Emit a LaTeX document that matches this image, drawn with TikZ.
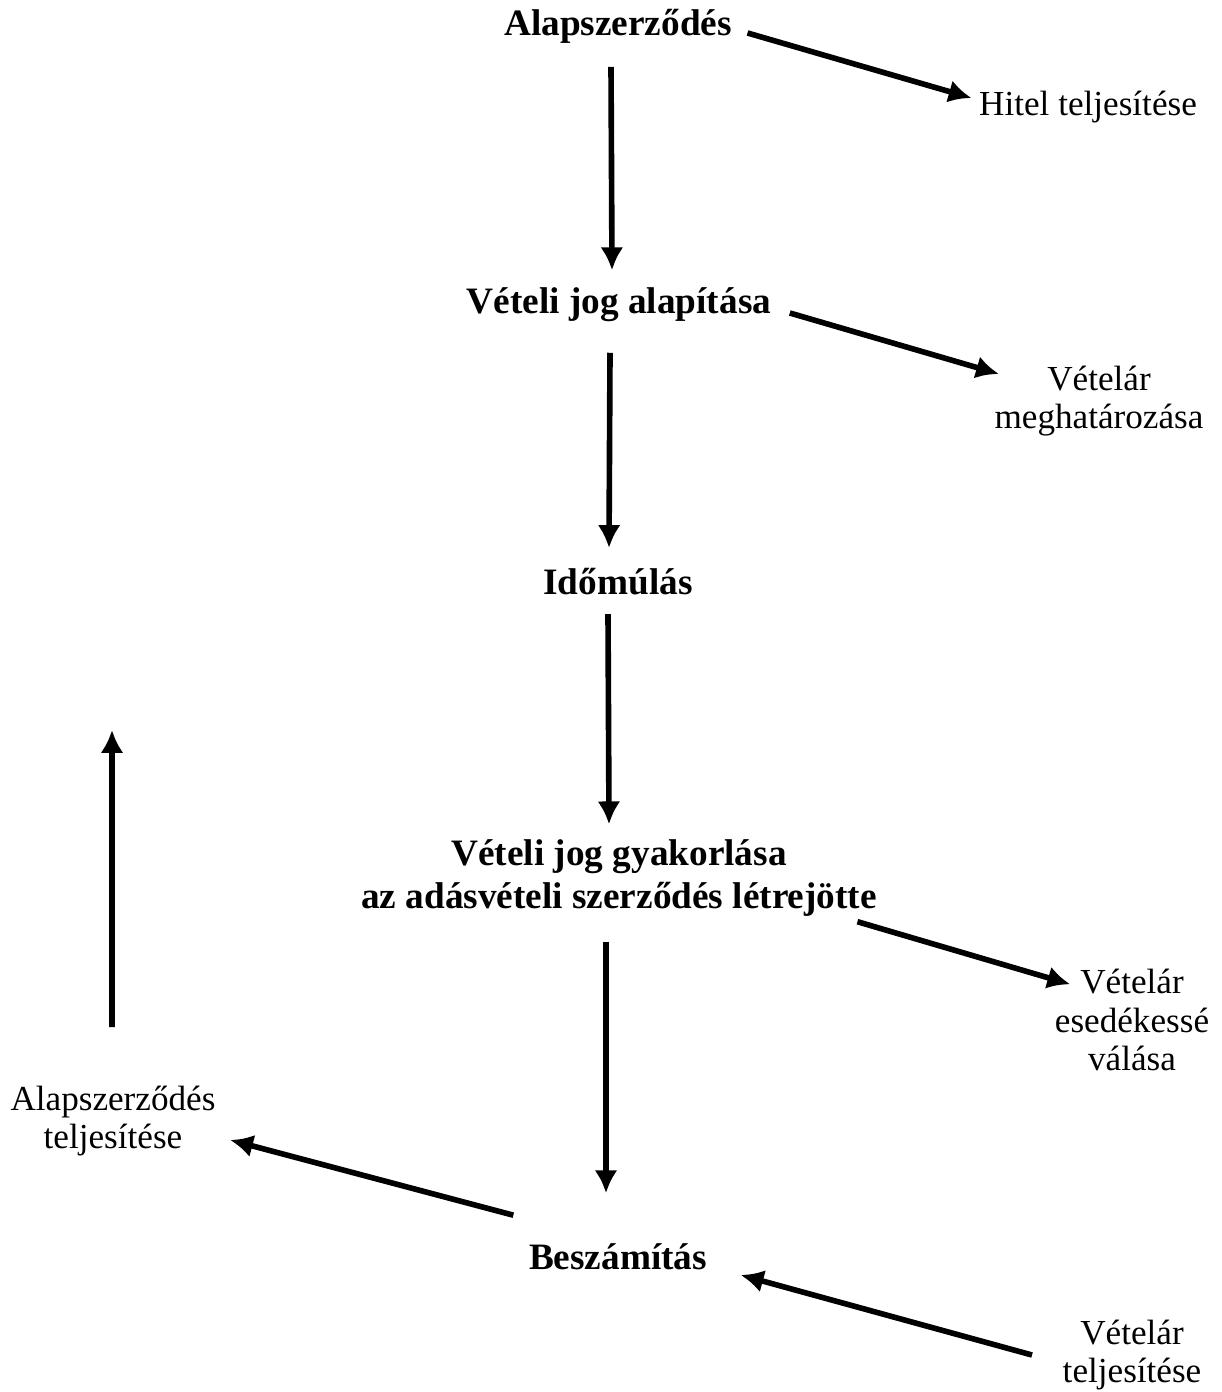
\documentclass[tikz,border=0pt]{standalone}
\usepackage{fontspec}
\setmainfont{Liberation Serif}
\usetikzlibrary{arrows.meta}
\tikzset{
  >={Latex[length=6.5pt,width=6.5pt]},
}
\tikzstyle{arr}=[line width=1.6pt,->]
\tikzstyle{main}=[inner sep=0pt,align=center,font=\fontsize{10.6}{12}\selectfont\bfseries]
\tikzstyle{side}=[inner sep=0pt,align=center,font=\fontsize{10}{11}\selectfont]

\begin{document}
\begin{tikzpicture}
        \useasboundingbox (0,0) rectangle (12.22,-13.92);
        % main column
        \node[main] (alap) at (6.18,-0.26) {Alapszerződés};
        \node[main] (vjalap) at (6.19,-3.05) {Vételi jog alapítása};
        \node[main] (ido) at (6.18,-5.82) {Időmúlás};
        \node[main] (gyak) at (6.19,-8.78) {Vételi jog gyakorlása\\az adásvételi szerződés létrejötte};
        \node[main] (besz) at (6.18,-12.57) {Beszámítás};
        % side notes
        \node[side] (hitel) at (10.88,-1.07) {Hitel teljesítése};
        \node[side] (vmeg) at (10.99,-4.01) {Vételár\\meghatározása};
        \node[side] (esed) at (11.32,-10.2) {Vételár\\esedékessé\\válása};
        \node[side] (alapt) at (1.13,-11.21) {Alapszerződés\\teljesítése};
        \node[side] (vteljes) at (11.32,-13.55) {Vételár\\teljesítése};
        \coordinate (fel) at (1.12,-7.30);
        % arrows
        \draw[arr] ([shift={(0.15,-0.07)}]alap.east) -- ([shift={(-0.07,0.09)}]hitel.west);
        \draw[arr] ([shift={(-0.07,-0.23)}]alap.south) -- ([shift={(-0.07,0.17)}]vjalap.north);
        \draw[arr] ([shift={(0.18,-0.08)}]vjalap.east) -- ([shift={(0.05,-0.09)}]vmeg.north west);
        \draw[arr] ([shift={(-0.09,-0.3)}]vjalap.south) -- ([shift={(-0.09,0.2)}]ido.north);
        \draw[arr] ([shift={(-0.1,-0.18)}]ido.south) -- ([shift={(-0.1,0.15)}]gyak.north);
        \draw[arr] ([shift={(-0.2,-0.05)}]gyak.south east) -- ([shift={(0.16,-0.16)}]esed.north west);
        \draw[arr] ([shift={(-0.13,-0.25)}]gyak.south) -- ([shift={(-0.12,0.5)}]besz.north);
        \draw[arr] ([shift={(-0.15,0.28)}]besz.north west) -- ([shift={(0.14,-0.19)}]alapt.east);
        \draw[arr] ([shift={(-0.3,0)}]vteljes.west) -- ([shift={(0.33,-0.18)}]besz.east);
        \draw[arr] ([shift={(-0.01,0.58)}]alapt.north) -- (fel);
      \end{tikzpicture}
\end{document}
